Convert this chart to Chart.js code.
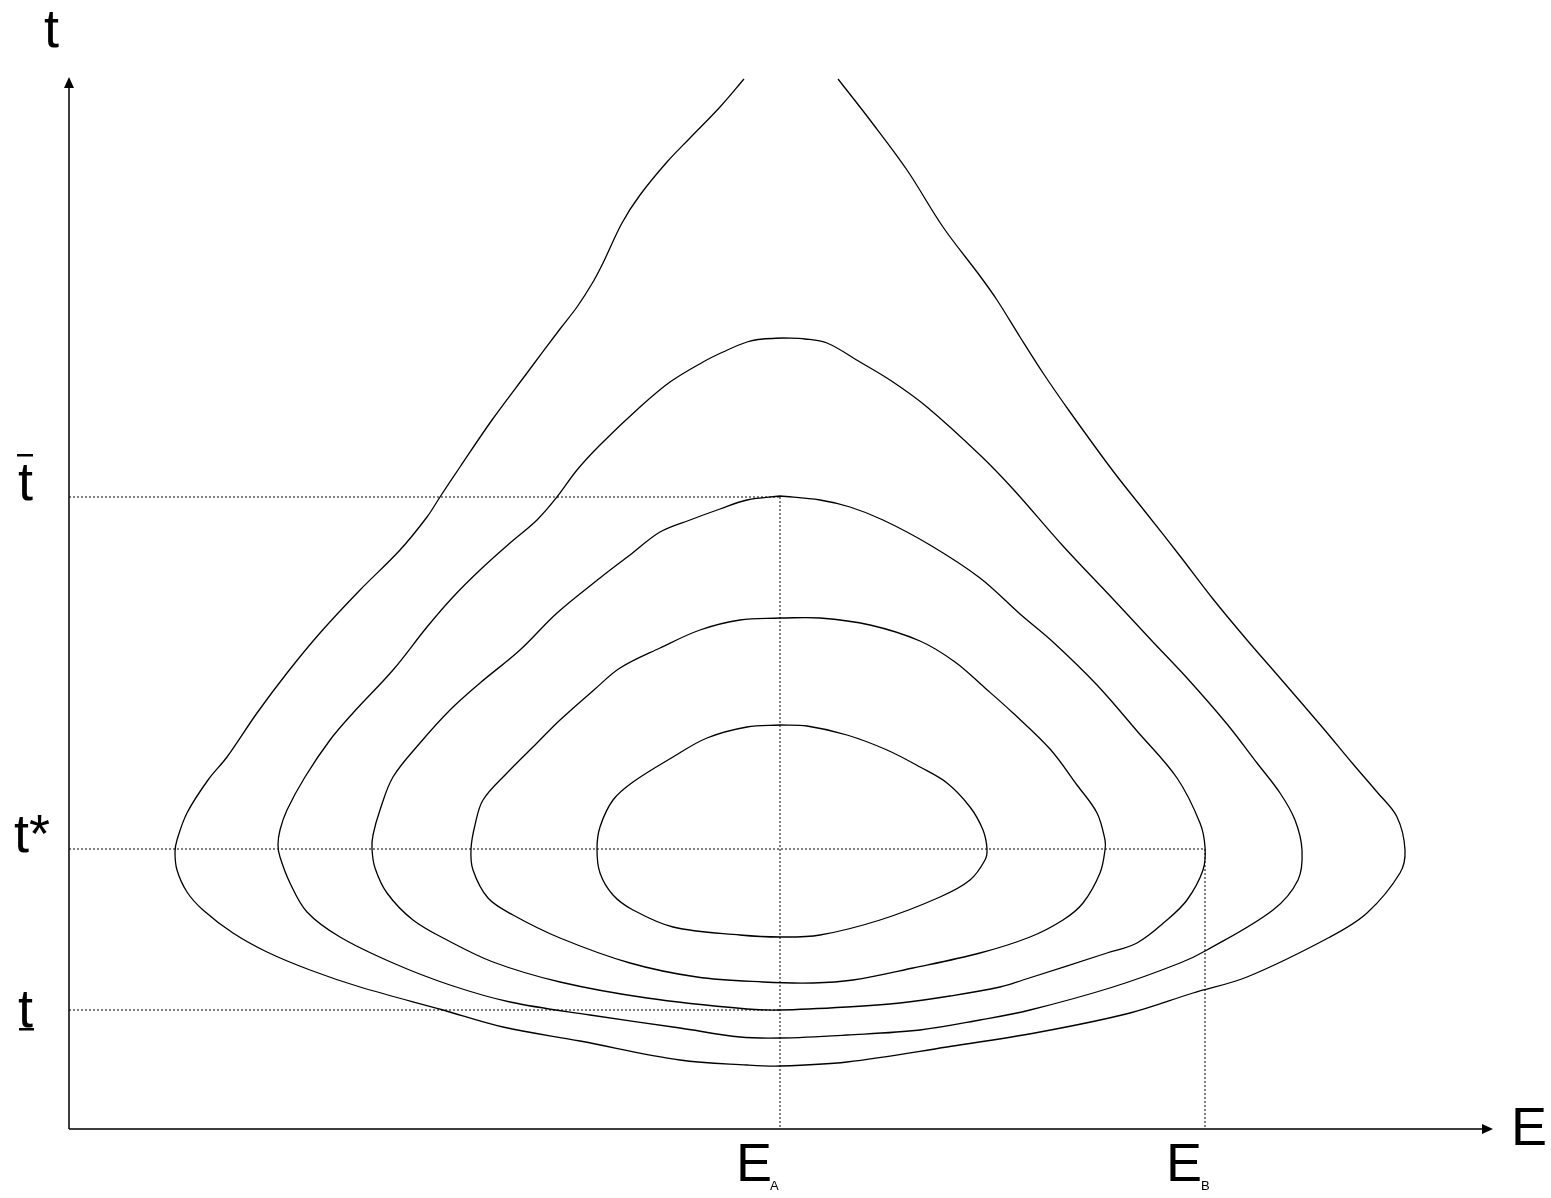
<!DOCTYPE html>
<html>
<head>
<meta charset="utf-8">
<title>Contours in the E-t plane</title>
<script src="https://cdn.jsdelivr.net/npm/chart.js@4.4.1/dist/chart.umd.min.js"></script>
<style>
  html, body { margin: 0; padding: 0; background: #fff; }
  canvas { display: block; }
</style>
</head>
<body>
<canvas id="chart" width="1551" height="1198"></canvas>
<script>
// axis extents (E across, t up)
const E_MAX = 1424;
const T_MAX = 1052;

// marked values on the axes
const EA = 711;
const EB = 1136;
const tBar = 632;
const tStar = 280;
const tUnder = 119;

// contour lines as [E, t] pairs, outermost first (the outer one is open at the top)
const contour1 = [
  [675,1050],[651,1022],[621,991],[598,967],[571,934],[553,906],[534,866],[524,847],[508,822],[491,800],
  [458,756],[423,709],[391,662],[371,632],[358,612],[331,579],[291,539],[251,496],[218,456],[188,416],
  [158,372],[139,349],[118,316],[108,289],[106,277],[108,259],[118,237],[134,219],[164,196],[198,177],
  [241,159],[291,142],[374,119],[434,102],[511,88],[611,69],[678,64],[711,63],[778,67],[878,82],
  [971,97],[1061,116],[1124,136],[1178,152],[1261,192],[1298,216],[1331,256],[1336,279],[1328,312],[1308,337],
  [1284,365],[1254,401],[1211,451],[1178,489],[1144,530],[1111,573],[1078,615],[1044,658],[1001,717],[974,756],
  [951,792],[928,829],[911,853],[874,902],[838,959],[801,1009],[769,1050]
];
const contour2 = [
  [714,791],[694,790],[678,787],[654,777],[634,767],[601,747],[571,722],[531,684],[508,659],[488,632],[468,609],
  [441,586],[411,559],[384,532],[358,502],[324,459],[284,416],[261,389],[236,352],[218,319],[211,299],
  [209,284],[211,272],[221,246],[238,217],[271,192],[324,166],[381,144],[441,127],[521,114],[611,101],
  [671,92],[711,91],[778,94],[851,99],[911,109],[961,119],[1044,142],[1111,166],[1138,179],[1204,219],
  [1229,249],[1233,279],[1226,309],[1211,336],[1188,366],[1158,405],[1118,451],[1084,487],[1044,530],[994,583],
  [944,640],[911,674],[858,722],[824,747],[791,767],[758,786],[736,790],[714,791]
];
const contour3 = [
  [711,633],[678,629],[651,620],[621,609],[591,597],[561,574],[531,551],[488,516],[451,479],[411,446],
  [381,419],[351,386],[324,352],[311,319],[304,294],[303,280],[306,261],[318,236],[344,209],[378,189],
  [424,167],[491,147],[578,131],[678,120],[711,119],[778,122],[831,126],[881,133],[931,142],[954,149],[1038,176],
  [1068,186],[1098,209],[1118,229],[1134,259],[1136,282],[1131,306],[1108,351],[1068,398],[1028,444],[984,487],
  [951,515],[911,551],[861,584],[814,609],[781,622],[751,629],[711,633]
];
const contour4 = [
  [711,511],[671,509],[631,499],[591,481],[551,461],[526,440],[491,409],[468,386],[438,356],[414,329],
  [406,304],[402,280],[404,259],[419,231],[444,214],[491,191],[561,166],[628,152],[694,147],[744,146],
  [784,149],[844,161],[911,176],[961,192],[994,209],[1014,226],[1031,256],[1036,279],[1036,289],[1028,316],
  [1008,344],[981,380],[944,416],[916,441],[886,467],[851,488],[801,504],[751,511],[711,511]
];
const contour5 = [
  [711,404],[678,402],[638,391],[604,372],[564,347],[544,329],[531,302],[528,280],[531,256],[544,234],
  [564,219],[604,202],[671,194],[711,192],[751,194],[811,209],[871,232],[901,249],[916,269],[918,280],
  [914,299],[901,322],[878,346],[851,362],[818,379],[778,394],[738,403],[711,404]
];

const toXY = pts => pts.map(([x, y]) => ({ x, y }));

function contour(pts) {
  return {
    data: toXY(pts),
    borderColor: "#000",
    borderWidth: 1.3,
    pointRadius: 0,
    tension: 0.35,
    fill: false,
  };
}

// dotted guide from one point to another
function guide(from, to) {
  return {
    data: toXY([from, to]),
    borderColor: "#000",
    borderWidth: 1,
    borderDash: [2, 2],
    pointRadius: 0,
    tension: 0,
    fill: false,
  };
}

// axes with arrow heads and the hand-placed letters
const axesAndLabels = {
  id: "axesAndLabels",
  afterDatasetsDraw(chart) {
    const { ctx } = chart;
    const xs = chart.scales.x;
    const ys = chart.scales.y;
    const x0 = xs.getPixelForValue(0);
    const y0 = ys.getPixelForValue(0);
    const xEnd = xs.getPixelForValue(E_MAX);
    const yEnd = ys.getPixelForValue(T_MAX);

    ctx.save();
    ctx.strokeStyle = "#000";
    ctx.fillStyle = "#000";
    ctx.lineWidth = 1.5;
    ctx.beginPath();
    ctx.moveTo(x0, y0);
    ctx.lineTo(xEnd - 8, y0);
    ctx.moveTo(x0, y0);
    ctx.lineTo(x0, yEnd + 8);
    ctx.stroke();

    ctx.beginPath();
    ctx.moveTo(xEnd, y0);
    ctx.lineTo(xEnd - 11, y0 - 5);
    ctx.lineTo(xEnd - 11, y0 + 5);
    ctx.closePath();
    ctx.fill();
    ctx.beginPath();
    ctx.moveTo(x0, yEnd);
    ctx.lineTo(x0 - 5, yEnd + 11);
    ctx.lineTo(x0 + 5, yEnd + 11);
    ctx.closePath();
    ctx.fill();

    ctx.font = '54px "Liberation Sans", Arial, sans-serif';
    ctx.textAlign = "left";
    ctx.textBaseline = "alphabetic";

    // axis names
    ctx.fillText("t", x0 - 25, yEnd - 30);
    ctx.fillText("E", xEnd + 18, y0 + 16);

    // t marks
    const yBar = ys.getPixelForValue(tBar);
    ctx.fillText("t", 18, yBar + 3);
    ctx.fillRect(17, yBar - 43, 16, 2.5);

    const yStar = ys.getPixelForValue(tStar);
    ctx.fillText("t*", 14, yStar + 3);

    const yUnder = ys.getPixelForValue(tUnder);
    ctx.fillText("t", 18, yUnder + 17);
    ctx.fillRect(19, yUnder + 18, 15, 2.5);

    // E marks with subscripts
    const xA = xs.getPixelForValue(EA);
    const xB = xs.getPixelForValue(EB);
    ctx.fillText("E", xA - 44, y0 + 52);
    ctx.fillText("E", xB - 39, y0 + 52);
    ctx.font = '13px "Liberation Sans", Arial, sans-serif';
    ctx.fillText("A", xA - 10, y0 + 61);
    ctx.fillText("B", xB - 4, y0 + 61);
    ctx.restore();
  },
};

new Chart(document.getElementById("chart").getContext("2d"), {
  type: "scatter",
  data: {
    datasets: [
      contour(contour1),
      contour(contour2),
      contour(contour3),
      contour(contour4),
      contour(contour5),
      guide([0, tBar], [EA, tBar]),
      guide([0, tStar], [EB, tStar]),
      guide([0, tUnder], [EA, tUnder]),
      guide([EA, tBar], [EA, 0]),
      guide([EB, tStar], [EB, 0]),
    ].map(d => ({ ...d, showLine: true })),
  },
  options: {
    responsive: false,
    animation: false,
    events: [],
    layout: { padding: { left: 69, top: 77, right: 58, bottom: 69 } },
    plugins: { legend: { display: false }, tooltip: { enabled: false } },
    scales: {
      x: { type: "linear", min: 0, max: E_MAX, display: false },
      y: { type: "linear", min: 0, max: T_MAX, display: false },
    },
  },
  plugins: [axesAndLabels],
});
</script>
</body>
</html>
